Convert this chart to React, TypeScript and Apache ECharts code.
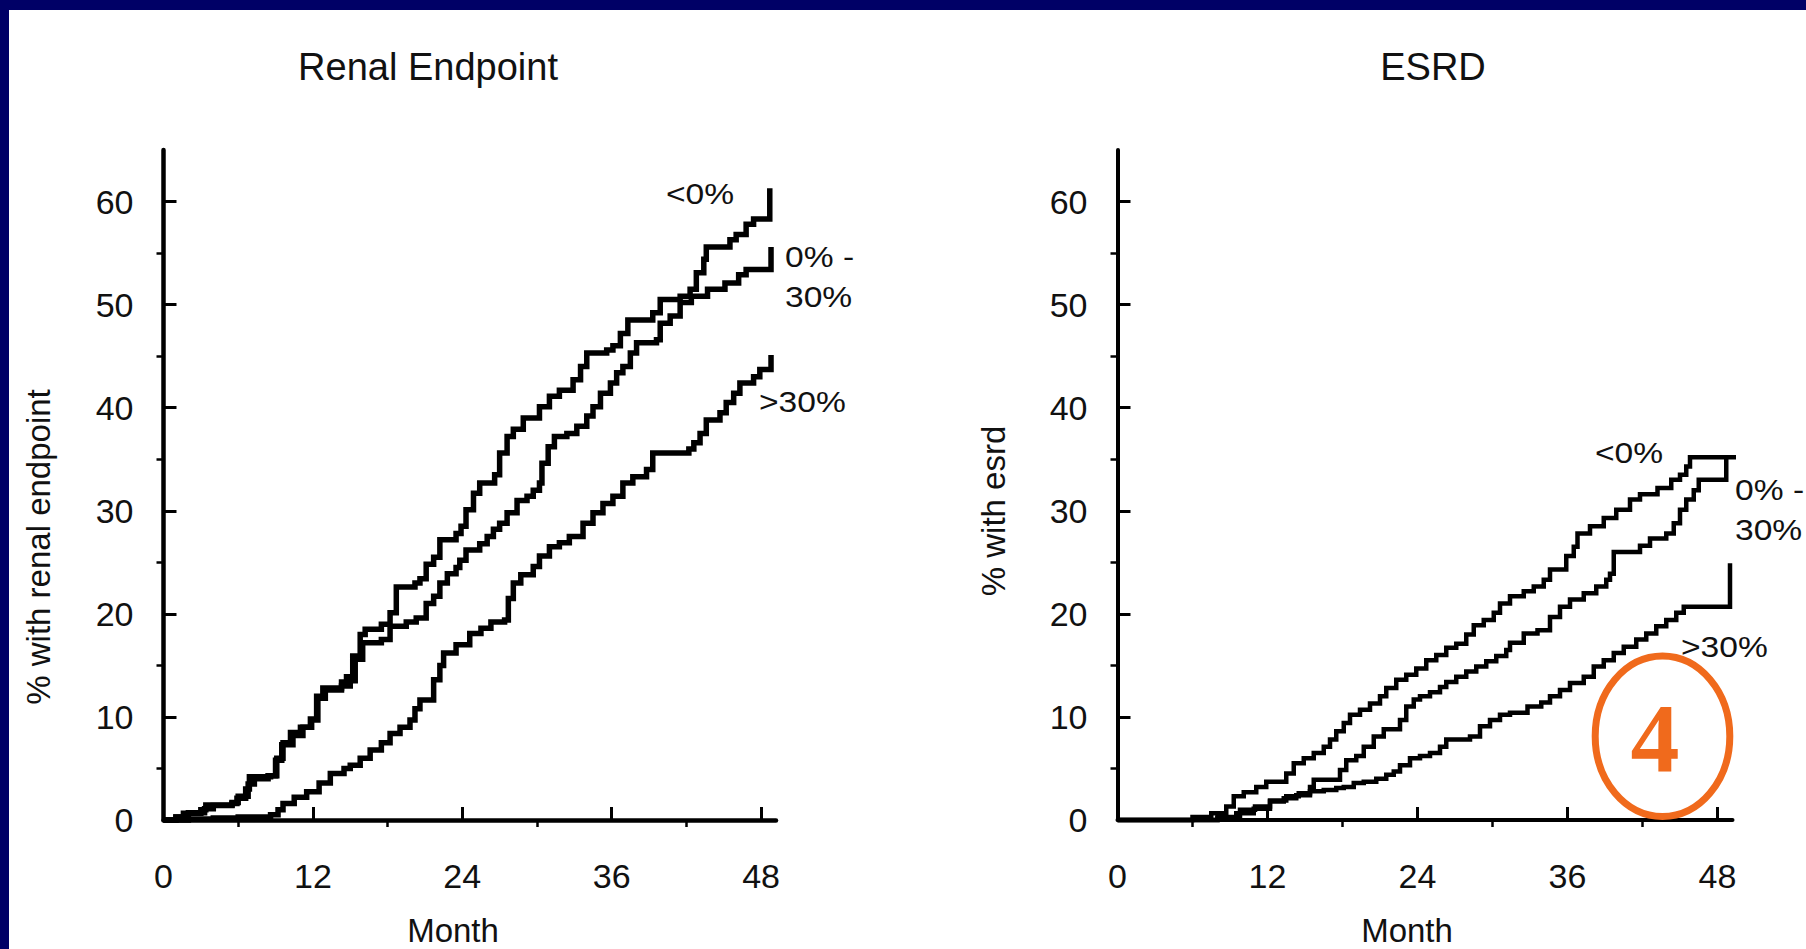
import React, { useEffect, useRef } from "react";
import * as echarts from "echarts";

// ---------- tick values ----------
const monthTicks = [0, 12, 24, 36, 48];
const monthMinorTicks = [6, 18, 30, 42];
const pctTicks = [0, 10, 20, 30, 40, 50, 60];
const pctMinorTicks = [5, 15, 25, 35, 45, 55];

// ---------- labels ----------
const panelTitles = ["Renal Endpoint", "ESRD"];
const yAxisTitles = ["% with renal endpoint", "% with esrd"];
const xAxisTitle = "Month";
const groupLabels = ["<0%", "0% -\n30%", ">30%"];
const badgeText = "4";

// ---------- Renal endpoint (Kaplan-Meier, [month, %]) ----------
const renalLt0: [number, number][] = [
  [0, 0], [1, 0.3], [1.6, 0.65], [3, 1.0], [3.4, 1.45], [5.5, 1.6], [5.9, 2.1], [6.6, 3.0],
  [6.9, 4.2], [8.6, 4.3], [9.1, 6.0], [9.6, 7.5], [10.2, 8.5], [11, 9.0], [11.8, 9.8],
  [12.3, 12.0], [12.8, 12.8], [14.3, 13.4], [14.7, 13.9], [15.2, 15.9], [15.8, 18.0],
  [16.2, 18.5], [17.5, 19.0], [18.2, 20.1], [18.7, 22.6], [20.2, 23.0], [20.6, 23.4],
  [21.1, 24.8], [21.7, 25.5], [22.2, 27.2], [23.5, 27.8], [23.9, 28.5], [24.3, 30.1],
  [24.9, 31.7], [25.4, 32.7], [26.6, 33.5], [27.0, 35.6], [27.6, 37.2], [28.1, 37.9],
  [28.9, 39.0], [30.2, 40.1], [31.0, 41.1], [31.8, 41.7], [32.9, 42.7], [33.5, 44.0],
  [34.0, 45.3], [35.6, 45.6], [36.1, 46.0], [36.7, 47.2], [37.3, 48.5], [39.3, 49.2],
  [39.9, 50.5], [41.5, 50.8], [42.3, 51.5], [42.8, 53.1], [43.4, 54.4], [43.6, 55.6],
  [45.5, 56.3], [46.0, 56.8], [46.8, 57.8], [47.4, 58.3], [48.7, 61.3],
];
const renal0to30: [number, number][] = [
  [0, 0], [1, 0.3], [2, 0.7], [3.3, 1.1], [4, 1.4], [5.5, 1.7], [6, 2.3], [6.8, 3.5],
  [7.3, 4.0], [8.4, 4.3], [9, 5.8], [9.5, 7.3], [10.4, 8.2], [11.2, 9.0], [11.9, 9.7],
  [12.4, 11.8], [13, 12.6], [14.3, 13.0], [15, 13.5], [15.4, 15.6], [16, 17.2], [17.5, 17.5],
  [18.2, 18.8], [19.5, 19.2], [20.3, 19.6], [21.1, 21.0], [21.7, 21.7], [22.2, 23.0],
  [22.8, 23.9], [23.5, 24.5], [23.8, 25.2], [24.3, 26.2], [25.4, 26.8], [26, 27.5],
  [26.5, 28.2], [27, 28.8], [27.6, 29.8], [28.4, 31.0], [29.2, 31.4], [29.7, 32.0],
  [30.2, 32.7], [30.4, 34.6], [30.9, 36.2], [31.4, 37.2], [32.4, 37.5], [33.2, 38.2],
  [34.0, 39.2], [34.5, 40.1], [35.1, 41.4], [35.9, 42.4], [36.4, 43.4], [36.9, 44.0],
  [37.5, 45.3], [38.0, 46.3], [39.6, 46.6], [39.9, 48.2], [40.7, 48.9], [41.5, 50.2],
  [42.4, 50.8], [43.7, 51.5], [45.1, 52.1], [46.2, 52.9], [46.8, 53.4], [48.8, 55.6],
];
const renalGt30: [number, number][] = [
  [0, 0], [2, 0.1], [4, 0.2], [6, 0.3], [8.6, 0.5], [9.2, 1.0], [9.6, 1.6], [10.5, 2.2],
  [11.5, 2.75], [12.5, 3.6], [13.4, 4.5], [14.5, 5.0], [15.0, 5.3], [15.8, 6.0], [16.6, 6.8],
  [17.5, 7.5], [18.2, 8.4], [19, 9.0], [19.8, 9.7], [20.2, 10.8], [20.6, 11.65], [21.7, 13.6],
  [22.2, 15.0], [22.5, 16.2], [23.5, 17.0], [24.6, 18.1], [25.5, 18.6], [26.3, 19.2],
  [27.4, 19.4], [27.7, 21.5], [28.1, 23.0], [28.7, 23.8], [29.7, 24.6], [30.2, 25.6],
  [31.0, 26.5], [31.8, 26.9], [32.6, 27.5], [33.7, 28.8], [34.5, 29.8], [35.3, 30.7],
  [36.1, 31.4], [36.9, 32.7], [37.7, 33.3], [38.8, 34.0], [39.3, 35.6], [42.2, 36.0],
  [42.6, 36.6], [43.1, 37.5], [43.6, 38.8], [44.7, 39.5], [45.2, 40.5], [45.8, 41.4],
  [46.3, 42.4], [47.4, 43.0], [47.9, 43.7], [48.8, 45.1],
];

// ---------- ESRD (Kaplan-Meier, [month, %]) ----------
const esrdLt0: [number, number][] = [
  [0, 0], [6, 0.3], [7.5, 0.65], [8.7, 1.3], [9.3, 2.3], [10.1, 2.7], [11.1, 3.2], [11.9, 3.7],
  [13.5, 4.5], [14.1, 5.5], [14.9, 6.0], [15.7, 6.5], [16.5, 7.1], [17.0, 7.8], [17.5, 8.6],
  [18.1, 9.4], [18.6, 10.2], [19.4, 10.7], [20.2, 11.3], [21.0, 12.0], [21.5, 12.8],
  [22.3, 13.6], [23.1, 14.1], [23.9, 14.7], [24.7, 15.5], [25.5, 16.0], [26.3, 16.7],
  [27.1, 17.1], [27.9, 18.0], [28.5, 18.9], [29.3, 19.4], [30.1, 20.1], [30.6, 21.0],
  [31.4, 21.7], [32.5, 22.2], [33.3, 22.65], [34.1, 23.3], [34.6, 24.3], [35.9, 25.6],
  [36.5, 26.5], [36.8, 27.8], [37.8, 28.5], [38.9, 29.3], [39.9, 30.1], [41.0, 31.1],
  [41.8, 31.6], [43.2, 32.2], [44.3, 33.0], [45.0, 33.5], [45.5, 34.3], [45.8, 35.2],
  [49.9, 37.9],
];
const esrd0to30: [number, number][] = [
  [0, 0], [8, 0.3], [9.8, 1.0], [11, 1.3], [12.2, 1.9], [13.5, 2.3], [14.5, 2.6], [15.4, 3.2],
  [15.7, 3.9], [17.8, 4.85], [18.3, 5.8], [19.1, 6.2], [19.7, 7.1], [20.5, 8.1], [21.3, 8.8],
  [22.6, 9.7], [23.1, 11.0], [23.7, 11.7], [24.2, 12.0], [25.0, 12.4], [25.8, 12.9],
  [26.3, 13.4], [27.1, 13.9], [27.9, 14.4], [28.7, 14.9], [29.5, 15.4], [30.3, 15.9],
  [31.1, 16.5], [31.4, 17.2], [32.5, 18.1], [33.6, 18.4], [34.6, 19.7], [35.4, 20.7],
  [36.2, 21.4], [37.3, 22.0], [38.3, 22.65], [39.1, 23.3], [39.4, 23.9], [39.7, 26.0],
  [41.8, 26.6], [42.6, 27.3], [43.9, 27.8], [44.5, 28.8], [45.0, 30.1], [45.5, 31.1],
  [46.1, 32.0], [46.5, 33.0], [48.7, 35.3],
];
const esrdGt30: [number, number][] = [
  [0, 0], [8, 0.2], [9.5, 0.65], [10.9, 1.1], [12.2, 1.8], [13.3, 2.1], [14.3, 2.4], [15.4, 2.8],
  [16.5, 2.9], [17.5, 3.1], [18.1, 3.2], [18.9, 3.6], [19.7, 3.7], [20.7, 4.0], [21.5, 4.4],
  [22.1, 4.7], [22.6, 5.3], [23.4, 6.0], [24.2, 6.2], [25.0, 6.5], [25.8, 7.1], [26.3, 7.8],
  [28.2, 8.1], [29.0, 9.1], [29.8, 9.7], [30.6, 10.2], [31.4, 10.4], [32.8, 11.0], [33.9, 11.4],
  [34.6, 12.0], [35.4, 12.6], [36.2, 13.3], [37.3, 13.9], [38.1, 14.9], [38.9, 15.5],
  [39.7, 16.2], [40.5, 16.8], [41.5, 17.5], [42.3, 18.1], [43.1, 18.8], [43.9, 19.4],
  [44.7, 20.1], [45.3, 20.7], [49.0, 24.9],
];

const FONT = "'Liberation Sans', Arial, Helvetica, sans-serif";
const SERIF = "'Liberation Serif', 'Times New Roman', serif";
const INK = "#111111";
const NAVY = "#000066";
const ORANGE = "#F06A1C";
const X_MAX = 49.2;
const Y_MAX = 65;

function xAxes(gridIndex: number, lw: number) {
  return [
    {
      type: "value", gridIndex, min: 0, max: X_MAX,
      axisLine: { show: true, lineStyle: { color: "#000", width: lw } },
      axisTick: { show: true, inside: true, length: 13, customValues: monthTicks, lineStyle: { color: "#000", width: 3 } },
      axisLabel: { show: true, customValues: monthTicks, margin: 39, fontSize: 34, color: INK, fontFamily: FONT },
      splitLine: { show: false },
    },
    {
      type: "value", gridIndex, min: 0, max: X_MAX,
      axisLine: { show: false },
      axisTick: { show: true, inside: true, length: 7, customValues: monthMinorTicks, lineStyle: { color: "#000", width: 2.5 } },
      axisLabel: { show: false },
      splitLine: { show: false },
    },
  ];
}

function yAxes(gridIndex: number, lw: number) {
  return [
    {
      type: "value", gridIndex, min: 0, max: Y_MAX,
      axisLine: { show: true, lineStyle: { color: "#000", width: lw } },
      axisTick: { show: true, inside: true, length: 13, customValues: pctTicks, lineStyle: { color: "#000", width: 3 } },
      axisLabel: { show: true, customValues: pctTicks, margin: 30, fontSize: 34, color: INK, fontFamily: FONT, padding: [10, 0, 0, 0] },
      splitLine: { show: false },
    },
    {
      type: "value", gridIndex, min: 0, max: Y_MAX,
      axisLine: { show: false },
      axisTick: { show: true, inside: true, length: 7, customValues: pctMinorTicks, lineStyle: { color: "#000", width: 2.5 } },
      axisLabel: { show: false },
      splitLine: { show: false },
    },
  ];
}

function km(name: string, data: [number, number][], axisIdx: number, width: number) {
  return {
    name, type: "line", data, step: "end", xAxisIndex: axisIdx, yAxisIndex: axisIdx,
    symbol: "none", showSymbol: false, clip: false, silent: true, z: 3,
    lineStyle: { color: "#000", width, join: "miter", cap: "butt" },
  };
}

function txt(text: string, x: number, y: number, size: number, extra: any = {}) {
  const { style: s, ...rest } = extra;
  return {
    type: "text", x, y, z: 10, ...rest,
    style: {
      text, fontSize: size, fontFamily: FONT, fill: INK,
      align: "center", verticalAlign: "middle", textAlign: "center", textVerticalAlign: "middle",
      ...(s || {}),
    },
  };
}

function lbl(text: string, x: number, y: number) {
  return txt(text, x, y, 30, {
    scaleX: 1.12,
    style: { align: "left", textAlign: "left", verticalAlign: "middle", textVerticalAlign: "middle", lineHeight: 40 },
  });
}

export default function App() {
  const ref = useRef<HTMLDivElement>(null);
  useEffect(() => {
    if (!ref.current) return;
    const chart = echarts.init(ref.current, null, { renderer: "svg" });
    const option: any = {
      animation: false,
      backgroundColor: "#ffffff",
      grid: [
        { left: 163.5, top: 150, width: 612.5, height: 670 },
        { left: 1117.5, top: 150, width: 615, height: 670 },
      ],
      xAxis: [...xAxes(0, 4.5), ...xAxes(1, 4)],
      yAxis: [...yAxes(0, 4.5), ...yAxes(1, 4)],
      series: [
        km("Renal <0%", renalLt0, 0, 5.5),
        km("Renal 0%-30%", renal0to30, 0, 5.5),
        km("Renal >30%", renalGt30, 0, 5.5),
        km("ESRD <0%", esrdLt0, 2, 4.5),
        km("ESRD 0%-30%", esrd0to30, 2, 4.5),
        km("ESRD >30%", esrdGt30, 2, 4.5),
      ],
      graphic: [
        { type: "rect", shape: { x: 0, y: 0, width: 1806, height: 10 }, style: { fill: NAVY }, z: 20 },
        { type: "rect", shape: { x: 0, y: 0, width: 9, height: 949 }, style: { fill: NAVY }, z: 20 },
        txt(panelTitles[0], 428, 67, 38),
        txt(panelTitles[1], 1433, 67, 38),
        txt(yAxisTitles[0], 38, 547, 33, { rotation: Math.PI / 2 }),
        txt(yAxisTitles[1], 993, 511, 33, { rotation: Math.PI / 2 }),
        txt(xAxisTitle, 453, 930, 33),
        txt(xAxisTitle, 1407, 930, 33),
        lbl(groupLabels[0], 666, 194),
        lbl(groupLabels[1], 785, 277),
        lbl(groupLabels[2], 759, 402),
        lbl(groupLabels[0], 1595, 453),
        lbl(groupLabels[1], 1735, 510),
        lbl(groupLabels[2], 1681, 647),
        {
          type: "ellipse", z: 15,
          shape: { cx: 1662.5, cy: 736.3, rx: 67.3, ry: 80.2 },
          style: { fill: "transparent", stroke: ORANGE, lineWidth: 7 },
        },
        txt(badgeText, 1655, 738, 98, { z: 15, style: { fontFamily: SERIF, fontWeight: "bold", fill: ORANGE } }),
      ],
    };
    chart.setOption(option);
    return () => chart.dispose();
  }, []);
  return (
    <div
      ref={ref}
      style={{ position: "fixed", left: 0, top: 0, width: 1806, height: 949, background: "#fff" }}
    />
  );
}
